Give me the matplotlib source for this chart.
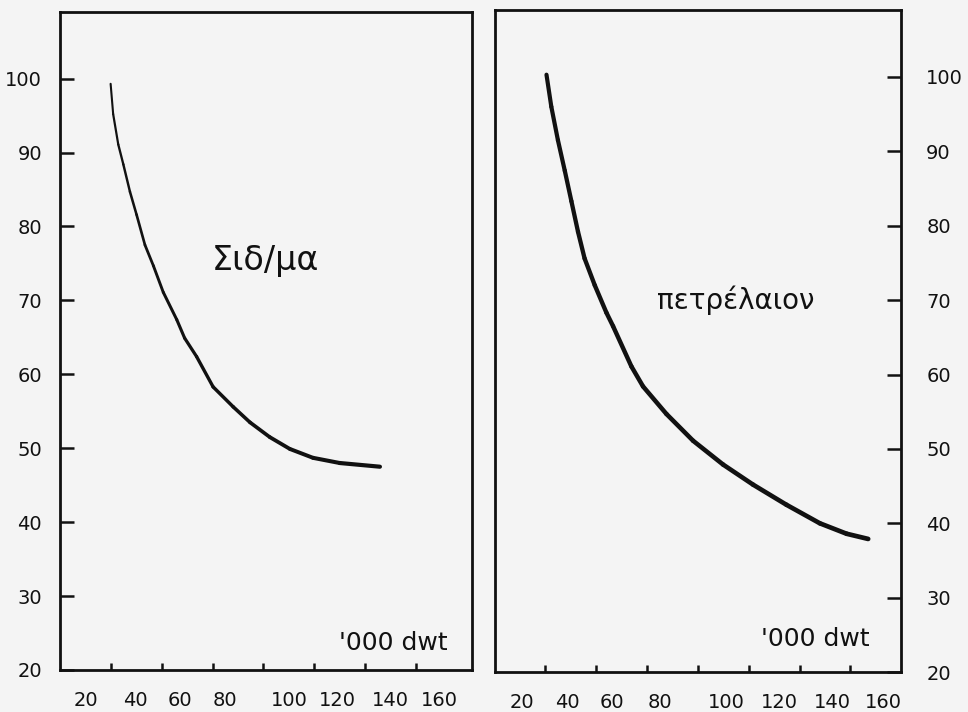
import numpy as np
import matplotlib.pyplot as plt
from matplotlib.collections import LineCollection

# curve (Σιδ/μα)
iron_x = [19.9, 20.9, 22.9, 24.9, 27.5, 30.1, 33.4, 36.7, 40.6, 45.9, 49.0, 53.7,
          60.2, 68.1, 74.7, 82.5, 90.4, 99.5, 110.0, 125.8]
iron_y = [99.3, 95.2, 91.1, 88.4, 84.7, 81.6, 77.5, 74.7, 71.1, 67.4, 64.9, 62.4,
          58.3, 55.6, 53.5, 51.5, 49.9, 48.7, 48.0, 47.5]

# curve (πετρέλαιον)
oil_x = [20.4, 22.3, 24.9, 27.6, 30.2, 32.8, 35.4, 39.4, 44.0, 46.6, 53.8, 58.4,
         67.6, 78.1, 89.9, 101.7, 114.8, 128.0, 138.5, 147.0]
oil_y = [100.3, 96.0, 91.5, 87.4, 83.3, 79.2, 75.6, 72.0, 68.3, 66.5, 61.1, 58.4,
         54.7, 51.1, 47.9, 45.2, 42.5, 40.0, 38.6, 37.9]

y_ticks = [20, 30, 40, 50, 60, 70, 80, 90, 100]
x_ticks = [20, 40, 60, 80, 100, 120, 140]
x_tick_labels = ['20', '40', '60', '80', '100', '120', '140', '160']
# hand-lettered labels sit off their tick marks
x_label_pos_left = [10, 29.5, 47, 65, 90, 109, 130, 149]
x_label_pos_right = [10.6, 28.7, 46, 65, 91, 112, 133, 153]

bg = '#f4f4f4'
ink = '#111111'
fig = plt.figure(figsize=(9.68, 7.12), dpi=100, facecolor=bg)
ax1 = fig.add_axes([0.062, 0.059, 0.4256, 0.924], facecolor=bg)
ax2 = fig.add_axes([0.511, 0.056, 0.420, 0.930], facecolor=bg)


def style(ax, xlabels_pos, side):
    ax.set_ylim(20, 109)
    for s in ax.spines.values():
        s.set_linewidth(2.0)
        s.set_color(ink)
    ax.set_xticks(x_ticks)
    ax.set_xticklabels([])
    ax.set_xticks(xlabels_pos, minor=True)
    ax.set_xticklabels(x_tick_labels, minor=True)
    ax.tick_params(axis='x', which='major', direction='in', length=5, width=1.8, color=ink)
    ax.tick_params(axis='x', which='minor', length=0, pad=15, labelsize=14, labelcolor=ink)
    ax.set_yticks(y_ticks)
    ax.set_yticklabels([str(v) for v in y_ticks])
    if side == 'right':
        ax.yaxis.tick_right()
        pad = 18
    else:
        pad = 13
    ax.tick_params(axis='y', which='major', direction='in', length=10, width=1.8,
                   color=ink, pad=pad, labelsize=14, labelcolor=ink)


def pen_line(ax, x, y, w0, w1):
    # pen pressure grows along the stroke
    pts = np.column_stack([x, y])
    segs = np.stack([pts[:-1], pts[1:]], axis=1)
    widths = np.linspace(w0, w1, len(segs))
    lc = LineCollection(segs, linewidths=widths, colors=ink, capstyle='round',
                        joinstyle='round')
    ax.add_collection(lc)


ax1.set_xlim(0, 162)
style(ax1, x_label_pos_left, 'left')
pen_line(ax1, iron_x, iron_y, 1.5, 3.0)
ax1.text(80.6, 75.4, 'Σιδ/μα', fontsize=24, ha='center', va='center', color=ink)
ax1.text(131, 23.7, "'000 dwt", fontsize=18, ha='center', va='center', color=ink)

ax2.set_xlim(0, 160)
style(ax2, x_label_pos_right, 'right')
pen_line(ax2, oil_x, oil_y, 3.0, 3.4)
ax2.text(95, 70, 'πετρέλαιον', fontsize=20, ha='center', va='center', color=ink)
ax2.text(126, 24.4, "'000 dwt", fontsize=18, ha='center', va='center', color=ink)

fig.savefig('out.png', dpi=100, facecolor=bg)
